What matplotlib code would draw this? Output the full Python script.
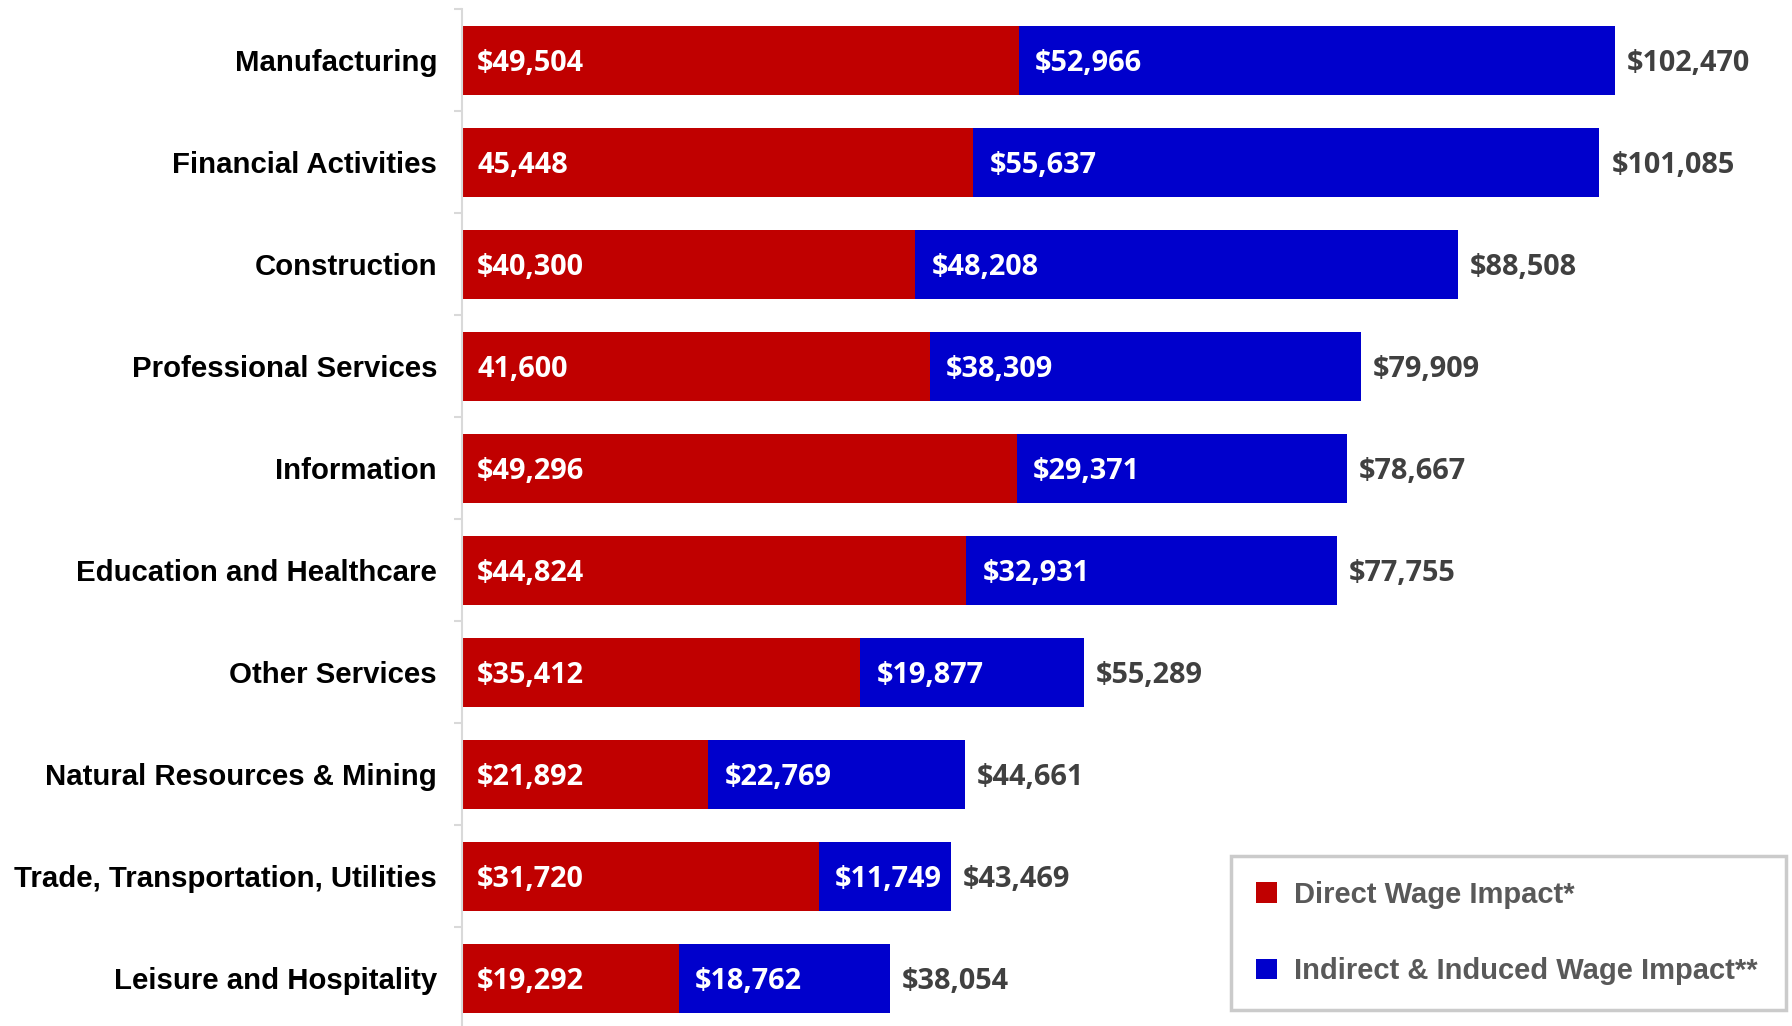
import matplotlib
matplotlib.use("Agg")
import matplotlib.pyplot as plt
from matplotlib.patches import Patch
from matplotlib.ticker import FixedLocator

categories = ["Manufacturing", "Financial Activities", "Construction", "Professional Services",
              "Information", "Education and Healthcare", "Other Services",
              "Natural Resources & Mining", "Trade, Transportation, Utilities", "Leisure and Hospitality"]
direct = [49504, 45448, 40300, 41600, 49296, 44824, 35412, 21892, 31720, 19292]
indirect = [52966, 55637, 48208, 38309, 29371, 32931, 19877, 22769, 11749, 18762]
totals = [102470, 101085, 88508, 79909, 78667, 77755, 55289, 44661, 43469, 38054]
direct_labels = ["$49,504", "45,448", "$40,300", "41,600", "$49,296", "$44,824",
                 "$35,412", "$21,892", "$31,720", "$19,292"]
series_names = ["Direct Wage Impact*", "Indirect & Induced Wage Impact**"]

RED = "#C00000"
BLUE = "#0000CC"
W, H = 1792, 1026
fig = plt.figure(figsize=(W / 100, H / 100), dpi=100)
ax = fig.add_axes([462 / W, (H - 1029.5) / H, (W - 462) / W, 1020 / H])

y = list(range(len(categories)))
ax.barh(y, direct, height=0.675, color=RED, edgecolor="none")
ax.barh(y, indirect, left=direct, height=0.675, color=BLUE, edgecolor="none")
ax.set_xlim(0, 118200)
ax.set_ylim(len(categories) - 0.5, -0.5)

vfont = dict(family=["Open Sans", "DejaVu Sans"], fontweight="bold", fontsize=20.8)
px = 118200 / (W - 462)
dy = 0.03
for i in y:
    ax.text(15 * px, i + dy, direct_labels[i], color="white", va="center", ha="left", **vfont)
    ax.text(direct[i] + 16 * px, i + dy, f"${indirect[i]:,}", color="white", va="center", ha="left", **vfont)
    ax.text(totals[i] + 12 * px, i + dy, f"${totals[i]:,}", color="#404040", va="center", ha="left", **vfont)

ax.set_yticks(y)
ax.set_yticklabels(categories, fontsize=21.2, fontweight="bold",
                   family=["Liberation Sans", "DejaVu Sans"], color="black")
ax.tick_params(axis="y", which="major", length=0, pad=18)
ax.yaxis.set_minor_locator(FixedLocator([i - 0.5 for i in range(len(categories) + 1)]))
ax.tick_params(axis="y", which="minor", length=6, color="#d9d9d9", width=1.5)
ax.set_xticks([])
for s in ["top", "right", "bottom"]:
    ax.spines[s].set_visible(False)
ax.spines["left"].set_color("#d9d9d9")
ax.spines["left"].set_linewidth(1.5)

handles = [Patch(facecolor=RED, edgecolor="none"), Patch(facecolor=BLUE, edgecolor="none")]
leg = fig.legend(handles, series_names, loc="lower left",
                 bbox_to_anchor=(1231 / W, 16 / H, 555 / W, 155 / H),
                 bbox_transform=fig.transFigure, mode="expand", borderaxespad=0,
                 prop=dict(family=["Liberation Sans", "DejaVu Sans"], weight="bold", size=21),
                 labelcolor="#595959", handlelength=0.7, handleheight=0.7,
                 handletextpad=0.6, labelspacing=1.65, borderpad=0.86, fancybox=False,
                 frameon=True)
leg.get_frame().set_edgecolor("#bfbfbf")
leg.get_frame().set_linewidth(2.5)

fig.savefig("out.png", dpi=100)
